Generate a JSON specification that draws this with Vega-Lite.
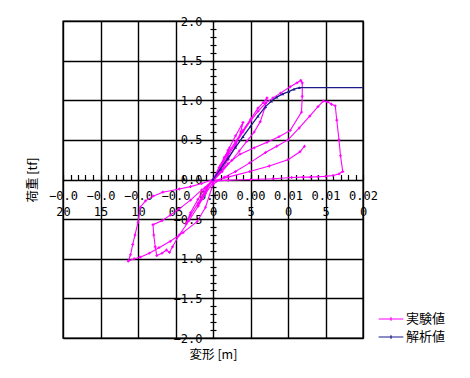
{
"$schema":"https://vega.github.io/schema/vega-lite/v6.json",
"width":300,"height":317,
"autosize":{"type":"none"},
"padding":{"left":63,"top":21,"right":107,"bottom":40},
"background":"#ffffff",
"config":{
 "view":{"stroke":"#000000","strokeWidth":1.4},
 "axis":{"domain":false,"grid":false,"labelFont":"DejaVu Sans Mono","labelFontSize":12,"labelColor":"#000000","tickColor":"#000000","tickWidth":1.2,"titleColor":"#000000","labelOverlap":false,"labelFlush":false,"labelBound":false}
},
"datasets":{
"exp":[
{"i":0,"d":0,"f":0},{"i":1,"d":0.0008,"f":0.15},{"i":2,"d":0.0015,"f":0.28},{"i":3,"d":0.0022,"f":0.4},{"i":4,"d":0.0018,"f":0.3},{"i":5,"d":0.0008,"f":0.12},{"i":6,"d":0,"f":0},{"i":7,"d":-0.0008,"f":-0.12},{"i":8,"d":-0.0015,"f":-0.25},{"i":9,"d":-0.002,"f":-0.33},{"i":10,"d":-0.0015,"f":-0.22},{"i":11,"d":-0.0007,"f":-0.08},{"i":12,"d":0,"f":0},
{"i":13,"d":0.001,"f":0.18},{"i":14,"d":0.002,"f":0.37},{"i":15,"d":0.003,"f":0.55},{"i":16,"d":0.004,"f":0.72},{"i":17,"d":0.0037,"f":0.6},{"i":18,"d":0.003,"f":0.42},{"i":19,"d":0.002,"f":0.25},{"i":20,"d":0.001,"f":0.1},{"i":21,"d":0,"f":0},{"i":22,"d":-0.001,"f":-0.15},{"i":23,"d":-0.002,"f":-0.3},{"i":24,"d":-0.003,"f":-0.45},{"i":25,"d":-0.0036,"f":-0.56},{"i":26,"d":-0.003,"f":-0.42},{"i":27,"d":-0.002,"f":-0.25},{"i":28,"d":-0.001,"f":-0.1},{"i":29,"d":0,"f":0},
{"i":30,"d":0.001,"f":0.17},{"i":31,"d":0.002,"f":0.33},{"i":32,"d":0.003,"f":0.48},{"i":33,"d":0.004,"f":0.62},{"i":34,"d":0.005,"f":0.76},{"i":35,"d":0.006,"f":0.9},{"i":36,"d":0.0067,"f":0.97},{"i":37,"d":0.0072,"f":1.03},{"i":38,"d":0.0069,"f":0.9},{"i":39,"d":0.0063,"f":0.73},{"i":40,"d":0.0055,"f":0.6},{"i":41,"d":0.0045,"f":0.48},{"i":42,"d":0.0035,"f":0.36},{"i":43,"d":0.0025,"f":0.24},{"i":44,"d":0.0012,"f":0.1},{"i":45,"d":0,"f":-0.02},{"i":46,"d":-0.0015,"f":-0.13},{"i":47,"d":-0.003,"f":-0.26},{"i":48,"d":-0.0045,"f":-0.37},{"i":49,"d":-0.0057,"f":-0.45},{"i":50,"d":-0.0068,"f":-0.52},{"i":51,"d":-0.008,"f":-0.57},{"i":52,"d":-0.0079,"f":-0.7},{"i":53,"d":-0.0077,"f":-0.85},{"i":54,"d":-0.0075,"f":-0.96},{"i":55,"d":-0.0068,"f":-0.93},{"i":56,"d":-0.0062,"f":-0.89},{"i":57,"d":-0.0058,"f":-0.92},{"i":58,"d":-0.0054,"f":-0.85},{"i":59,"d":-0.0045,"f":-0.7},{"i":60,"d":-0.0032,"f":-0.52},{"i":61,"d":-0.002,"f":-0.34},{"i":62,"d":-0.001,"f":-0.18},{"i":63,"d":0,"f":-0.04},
{"i":64,"d":0.001,"f":0.13},{"i":65,"d":0.002,"f":0.3},{"i":66,"d":0.003,"f":0.45},{"i":67,"d":0.004,"f":0.6},{"i":68,"d":0.005,"f":0.74},{"i":69,"d":0.006,"f":0.86},{"i":70,"d":0.007,"f":0.96},{"i":71,"d":0.008,"f":1.03},{"i":72,"d":0.009,"f":1.09},{"i":73,"d":0.0103,"f":1.17},{"i":74,"d":0.0112,"f":1.22},{"i":75,"d":0.0117,"f":1.25},{"i":76,"d":0.0119,"f":1.22},{"i":77,"d":0.0119,"f":1.05},{"i":78,"d":0.0118,"f":0.85},{"i":79,"d":0.0103,"f":0.62},{"i":80,"d":0.0088,"f":0.54},{"i":81,"d":0.0072,"f":0.47},{"i":82,"d":0.0055,"f":0.4},{"i":83,"d":0.0036,"f":0.32},{"i":84,"d":0.002,"f":0.2},{"i":85,"d":0.001,"f":0.1},{"i":86,"d":0,"f":0},{"i":87,"d":-0.0015,"f":-0.05},{"i":88,"d":-0.003,"f":-0.09},{"i":89,"d":-0.0045,"f":-0.12},{"i":90,"d":-0.0067,"f":-0.16},{"i":91,"d":-0.008,"f":-0.21},{"i":92,"d":-0.009,"f":-0.27},{"i":93,"d":-0.0097,"f":-0.35},{"i":94,"d":-0.01,"f":-0.54},{"i":95,"d":-0.0104,"f":-0.7},{"i":96,"d":-0.0107,"f":-0.82},{"i":97,"d":-0.011,"f":-0.95},{"i":98,"d":-0.0113,"f":-1.03},{"i":99,"d":-0.0105,"f":-1.0},{"i":100,"d":-0.0097,"f":-0.98},{"i":101,"d":-0.0085,"f":-0.93},{"i":102,"d":-0.0072,"f":-0.86},{"i":103,"d":-0.0057,"f":-0.78},{"i":104,"d":-0.004,"f":-0.67},{"i":105,"d":-0.0021,"f":-0.53},{"i":106,"d":-0.001,"f":-0.35},{"i":107,"d":0,"f":-0.06},
{"i":108,"d":0.0015,"f":0.03},{"i":109,"d":0.003,"f":0.1},{"i":110,"d":0.0049,"f":0.21},{"i":111,"d":0.007,"f":0.34},{"i":112,"d":0.0085,"f":0.42},{"i":113,"d":0.01,"f":0.5},{"i":114,"d":0.0115,"f":0.65},{"i":115,"d":0.0129,"f":0.8},{"i":116,"d":0.014,"f":0.92},{"i":117,"d":0.0147,"f":0.99},{"i":118,"d":0.0153,"f":0.98},{"i":119,"d":0.0158,"f":0.95},{"i":120,"d":0.0163,"f":0.93},{"i":121,"d":0.0165,"f":0.75},{"i":122,"d":0.0168,"f":0.5},{"i":123,"d":0.017,"f":0.3},{"i":124,"d":0.0173,"f":0.1},{"i":125,"d":0.0168,"f":0.07},{"i":126,"d":0.016,"f":0.05},{"i":127,"d":0.015,"f":0.04},{"i":128,"d":0.014,"f":0.035},{"i":129,"d":0.013,"f":0.03},{"i":130,"d":0.012,"f":0.03},{"i":131,"d":0.0105,"f":0.025},{"i":132,"d":0.008,"f":0.01},{"i":133,"d":0.005,"f":0},{"i":134,"d":0.002,"f":-0.01},{"i":135,"d":0,"f":-0.02},
{"i":136,"d":0.002,"f":0.03},{"i":137,"d":0.0049,"f":0.1},{"i":138,"d":0.0075,"f":0.17},{"i":139,"d":0.01,"f":0.25},{"i":140,"d":0.0116,"f":0.35},{"i":141,"d":0.0122,"f":0.42}
],
"ana":[
{"i":0,"d":0,"f":0},{"i":1,"d":0.001,"f":0.135},{"i":2,"d":0.002,"f":0.27},{"i":3,"d":0.003,"f":0.405},{"i":4,"d":0.004,"f":0.54},{"i":5,"d":0.005,"f":0.67},{"i":6,"d":0.006,"f":0.8},{"i":7,"d":0.007,"f":0.92},{"i":8,"d":0.0078,"f":0.99},{"i":9,"d":0.0085,"f":1.04},{"i":10,"d":0.0093,"f":1.08},{"i":11,"d":0.0101,"f":1.11},{"i":12,"d":0.0108,"f":1.14},{"i":13,"d":0.0115,"f":1.16},{"i":14,"d":0.02,"f":1.16}
]
},
"layer":[
{"data":{"name":"exp"},
 "mark":{"type":"line","strokeWidth":1.1},
 "encoding":{
  "x":{"field":"d","type":"quantitative","scale":{"domain":[-0.02,0.02],"nice":false,"zero":false},
   "axis":{"orient":"bottom","values":[-0.02,-0.015,-0.01,-0.005,0,0.005,0.01,0.015,0.02],"grid":true,"gridColor":"#000000","gridOpacity":1,"gridWidth":1.4,"labels":false,"ticks":false,"tickSize":0,"title":"変形 [m]","titleFont":"Noto Sans CJK JP","titleFontSize":12.5,"titleFontWeight":"normal","titlePadding":10}},
  "y":{"field":"f","type":"quantitative","scale":{"domain":[-2,2],"nice":false,"zero":false},
   "axis":{"orient":"left","values":[-2,-1.5,-1,-0.5,0,0.5,1,1.5,2],"grid":true,"gridColor":"#000000","gridOpacity":1,"gridWidth":1.4,"labels":false,"ticks":false,"tickSize":0,"title":"荷重 [tf]","titleFont":"Noto Sans CJK JP","titleFontSize":12.5,"titleFontWeight":"normal","titlePadding":24}},
  "color":{"datum":"実験値","type":"nominal","scale":{"domain":["実験値","解析値"],"range":["#ff00ff","#1a1a8a"]},
   "legend":{"orient":"none","legendX":317.5,"legendY":287.5,"title":null,"symbolType":"M-1.3,0H1.3M0,-0.18V0.18","symbolSize":361,"symbolStrokeWidth":1.2,"labelFont":"Noto Sans CJK JP","labelFontSize":13,"labelColor":"#000000","labelOffset":4.5,"rowPadding":0,"padding":0}},
  "order":{"field":"i","type":"quantitative"}
 }},
{"data":{"name":"exp"},
 "mark":{"type":"point","shape":"cross","filled":true,"size":8,"color":"#ff00ff","opacity":1},
 "encoding":{
  "x":{"field":"d","type":"quantitative",
   "axis":{"orient":"bottom","offset":-158.5,"values":[-0.02,-0.015,-0.01,-0.005,0,0.005,0.01,0.015,0.02],"ticks":false,"tickSize":0,"labelExpr":"[substring(format(datum.value,'.3f'),0,4), substring(format(datum.value,'.3f'),4)]","labelBaseline":"top","labelAlign":"center","labelPadding":11,"labelLineHeight":16,"title":null}},
  "y":{"field":"f","type":"quantitative",
   "axis":{"orient":"left","offset":-150,"values":[-2,-1.5,-1,-0.5,0,0.5,1,1.5,2],"ticks":false,"tickSize":0,"format":".1f","labelAlign":"right","labelBaseline":"middle","labelPadding":11,"title":null}}
 }},
{"data":{"name":"ana"},
 "mark":{"type":"line","strokeWidth":1.3},
 "encoding":{
  "x":{"field":"d","type":"quantitative",
   "axis":{"orient":"top","offset":-158.5,"values":[-0.02,-0.019,-0.018,-0.017,-0.016,-0.015,-0.014,-0.013,-0.012,-0.011,-0.01,-0.009,-0.008,-0.007,-0.006,-0.005,-0.004,-0.003,-0.002,-0.001,0,0.001,0.002,0.003,0.004,0.005,0.006,0.007,0.008,0.009,0.01,0.011,0.012,0.013,0.014,0.015,0.016,0.017,0.018,0.019,0.02],"labels":false,"ticks":true,"tickSize":5,"title":null}},
  "y":{"field":"f","type":"quantitative",
   "axis":{"orient":"left","offset":-150,"values":[-2,-1.9,-1.8,-1.7,-1.6,-1.5,-1.4,-1.3,-1.2,-1.1,-1,-0.9,-0.8,-0.7,-0.6,-0.5,-0.4,-0.3,-0.2,-0.1,0,0.1,0.2,0.3,0.4,0.5,0.6,0.7,0.8,0.9,1,1.1,1.2,1.3,1.4,1.5,1.6,1.7,1.8,1.9,2],"labels":false,"ticks":true,"tickSize":3,"title":null}},
  "color":{"datum":"解析値","type":"nominal",
   "legend":{"orient":"none","legendX":317.5,"legendY":287.5,"title":null,"symbolType":"M-1.3,0H1.3M0,-0.18V0.18","symbolSize":361,"symbolStrokeWidth":1.2,"labelFont":"Noto Sans CJK JP","labelFontSize":13,"labelColor":"#000000","labelOffset":4.5,"rowPadding":0,"padding":0}},
  "order":{"field":"i","type":"quantitative"}
 }},
{"data":{"name":"ana"},
 "transform":[{"filter":"datum.d < 0.015"}],
 "mark":{"type":"point","shape":"triangle-up","filled":true,"size":10,"color":"#1a1a8a","opacity":1},
 "encoding":{
  "x":{"field":"d","type":"quantitative","axis":null},
  "y":{"field":"f","type":"quantitative",
   "axis":{"orient":"right","offset":-150,"values":[-2,-1.9,-1.8,-1.7,-1.6,-1.5,-1.4,-1.3,-1.2,-1.1,-1,-0.9,-0.8,-0.7,-0.6,-0.5,-0.4,-0.3,-0.2,-0.1,0,0.1,0.2,0.3,0.4,0.5,0.6,0.7,0.8,0.9,1,1.1,1.2,1.3,1.4,1.5,1.6,1.7,1.8,1.9,2],"labels":false,"ticks":true,"tickSize":3,"title":null}}
 }}
],
"resolve":{"axis":{"x":"independent","y":"independent"}}
}
